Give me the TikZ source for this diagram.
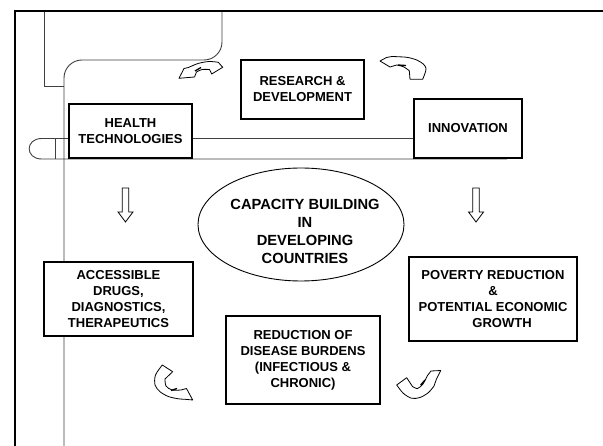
\documentclass[tikz,border=0pt]{standalone}
\usepackage{fontspec}
\setmainfont{Liberation Sans}
\usetikzlibrary{shapes.geometric}
\newcommand\boxfont{\fontsize{13}{16}\selectfont\bfseries}
\newcommand\ellfont{\fontsize{14.7}{18}\selectfont\bfseries}
\tikzset{
  box/.style={draw=black, line width=1.5pt, fill=white, inner sep=0pt, align=center, font=\boxfont},
  thinline/.style={draw=black!75, line width=0.9pt},
  frameline/.style={draw=black, line width=2.8pt},
  carrow/.style={draw=black, line width=0.8pt, fill=white, line join=round},
  foldline/.style={draw=black, line width=1.3pt},
  blockarrow/.style={draw=black, line width=0.8pt, fill=white},
}
\begin{document}
\begin{tikzpicture}[x=1pt,y=-1pt]
\useasboundingbox (0,0) rectangle (603,446);
\fill[white] (0,0) rectangle (603,446);

% thin background lines
\draw[thinline] (44,11) -- (44,86) -- (64,86);
\draw[thinline, rounded corners=18pt] (222,11) -- (222,60) -- (64,60) -- (64,446);
\draw[thinline] (414,138.5) -- (41.7,138.5) .. controls (25,138.5) and (25,159) .. (41.7,159) -- (507,159);
\draw[thinline] (55,138.5) -- (55,159);

% thick frame
\draw[frameline] (15,446) -- (15,11) -- (603,11);

% boxes
\node[box, minimum width=123pt, minimum height=54pt] (health) at (130.5,131) {HEALTH\\TECHNOLOGIES};
\node[box, minimum width=123pt, minimum height=59pt] (rd) at (302.5,89.5) {RESEARCH \&\\DEVELOPMENT};
\node[box, minimum width=108pt, minimum height=59pt] (innov) at (468,128.5) {INNOVATION};
\node[box, minimum width=149pt, minimum height=74pt] (access) at (118.5,299) {ACCESSIBLE\\DRUGS,\\DIAGNOSTICS,\\THERAPEUTICS};
\node[box, minimum width=154pt, minimum height=88pt] (reduc) at (303,360) {REDUCTION OF\\DISEASE BURDENS\\(INFECTIOUS \&\\CHRONIC)};
\node[box, minimum width=168pt, minimum height=84pt] (pov) at (493,299) {POVERTY REDUCTION\\\&\\POTENTIAL ECONOMIC\\\hspace*{1.4em}GROWTH};

% ellipse
\node[draw=black, ellipse, line width=0.9pt, minimum width=206pt, minimum height=113pt, inner sep=0pt] (cap) at (301,224.5) {};
\node[font=\ellfont, align=center, inner sep=0pt] (captext) at (305,231.5) {CAPACITY BUILDING\\IN\\DEVELOPING\\COUNTRIES};

% down block arrows
\draw[blockarrow] (122.2,188) -- (128.8,188) -- (128.8,212) -- (133,212) -- (125.5,222) -- (118,212) -- (122.2,212) -- cycle;
\draw[blockarrow] (472.7,188) -- (479.3,188) -- (479.3,212) -- (483.5,212) -- (476,222) -- (468.5,212) -- (472.7,212) -- cycle;

% curved arrows
% top-left
\draw[carrow] (179,78.3) -- (184,68.5) -- plot[smooth] coordinates {(188.5,67.5) (198,63.5) (209,61.5) (218.3,62.3)} -- (222.7,67.3) -- (211.7,74) -- plot[smooth] coordinates {(209.5,69.5) (202,69.5) (196.5,72)} -- (194.5,77) -- cycle;
\draw[foldline] (195,71) -- (201,67.5);
% top-right
\draw[carrow] (380,61) -- (386.5,57.5) -- plot[smooth] coordinates {(392,56.5) (406.7,57.3) (416.7,60) (423.3,64) (426,68.3) (425,73.3) (422.7,79.3)} -- (410,79.3) -- plot[smooth] coordinates {(409.3,70.7) (403.3,66.7) (396.7,65)} -- (390,67) -- cycle;
\draw[foldline] (398,65) -- (406,65.5);
% bottom-left
\draw[carrow] (162.3,365) -- plot[smooth] coordinates {(162.3,365) (155.5,375) (155,385) (160,391.7) (168.3,396.5) (178.3,398.8) (185,399.3)} -- (192.7,400) -- (186.5,388.5) -- (181,390) -- plot[smooth] coordinates {(181,390) (172,390) (166,386) (165,379)} -- (172.7,371.7) -- cycle;
\draw[foldline] (171,390.5) -- (177,388.5);
% bottom-right
\draw[carrow] (396.7,385) -- plot[smooth] coordinates {(396.7,385) (403.3,393.3) (411.7,398.3) (420,397.5) (428.3,392.7) (434,386)} -- (436.5,379) -- (440.7,370.5) -- (431,371) -- (427.5,375.5) -- plot[smooth] coordinates {(427.5,375.5) (423,384) (417.5,388.5) (412.5,386.5)} -- (406.7,377.7) -- cycle;
\draw[foldline] (420.7,385) -- (425,380);
\end{tikzpicture}
\end{document}
